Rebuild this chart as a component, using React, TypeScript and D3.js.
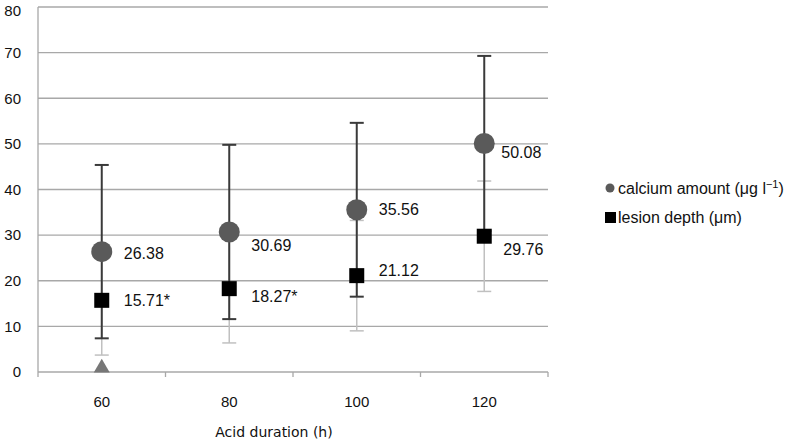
import { useEffect, useRef } from 'react'
import * as d3 from 'd3'

const durations = ['60', '80', '100', '120']
const calcium = [26.38, 30.69, 35.56, 50.08]
const calciumErr = [19.0, 19.1, 19.05, 19.2]
const lesion = [15.71, 18.27, 21.12, 29.76]
const lesionErr = [12.0, 11.9, 12.1, 12.1]
const lesionMark = ['*', '*', '', '']
const triangle = [0, null, null, null]
const yTicks = [0, 10, 20, 30, 40, 50, 60, 70, 80]

// label nudges (px) so the numbers sit where the original put them
const calciumLabelDy = [2, 13, 0, 9]
const lesionLabelDy = [0, 8, -5, 13]

export default function App() {
    const svgRef = useRef<SVGSVGElement>(null)

    useEffect(() => {
        const el = svgRef.current
        if (!el) return
        d3.select(el).selectAll('*').remove()

        const W = 788, H = 441
        const margin = { top: 7, left: 38, right: 240, bottom: 69 }
        const font = 'Liberation Sans, Arial, sans-serif'

        const svg = d3.select(el).attr('width', W).attr('height', H)
            .style('display', 'block').style('background', '#fff')

        const x = d3.scaleBand().domain(durations).range([margin.left, W - margin.right])
        const y = d3.scaleLinear().domain([0, 80]).range([H - margin.bottom, margin.top])
        const cx = (i: number) => (x(durations[i]) as number) + x.bandwidth() / 2

        // gridlines
        svg.append('g').selectAll('line').data(yTicks).enter().append('line')
            .attr('x1', margin.left).attr('x2', W - margin.right)
            .attr('y1', d => y(d)).attr('y2', d => y(d))
            .attr('stroke', '#a8a8a8').attr('stroke-width', 1.3)

        // y axis line
        svg.append('line')
            .attr('x1', margin.left).attr('x2', margin.left)
            .attr('y1', y(80)).attr('y2', y(0) + 5)
            .attr('stroke', '#a8a8a8').attr('stroke-width', 1.3)

        // x ticks at category boundaries
        const bounds = durations.map(d => x(d) as number).concat([W - margin.right])
        svg.append('g').selectAll('line').data(bounds.slice(1)).enter().append('line')
            .attr('x1', d => d).attr('x2', d => d)
            .attr('y1', y(0)).attr('y2', y(0) + 5)
            .attr('stroke', '#a8a8a8').attr('stroke-width', 1.3)

        // y tick labels
        svg.append('g').selectAll('text').data(yTicks).enter().append('text')
            .attr('x', 21).attr('y', d => Math.max(y(d), 11)).attr('dy', '0.35em')
            .attr('text-anchor', 'end')
            .attr('font-family', font).attr('font-size', 15).attr('fill', '#111')
            .text(d => d)

        // x labels
        svg.append('g').selectAll('text').data(durations).enter().append('text')
            .attr('x', (_d, i) => cx(i)).attr('y', 407)
            .attr('text-anchor', 'middle')
            .attr('font-family', font).attr('font-size', 15).attr('fill', '#111')
            .text(d => d)

        svg.append('text')
            .attr('x', 274).attr('y', 437)
            .attr('text-anchor', 'middle')
            .attr('font-family', 'DejaVu Sans, Verdana, sans-serif').attr('font-size', 14)
            .attr('fill', '#111')
            .text('Acid duration (h)')

        const errBar = (g: any, i: number, lo: number, hi: number, color: string, w: number) => {
            const px = cx(i)
            g.append('line').attr('x1', px).attr('x2', px).attr('y1', y(lo)).attr('y2', y(hi))
                .attr('stroke', color).attr('stroke-width', w)
            ;[lo, hi].forEach(v => {
                g.append('line').attr('x1', px - 7).attr('x2', px + 7).attr('y1', y(v)).attr('y2', y(v))
                    .attr('stroke', color).attr('stroke-width', w)
            })
        }

        // lesion error bars (light)
        const eb = svg.append('g')
        lesion.forEach((v, i) => errBar(eb, i, v - lesionErr[i], v + lesionErr[i], '#c0c0c0', 1.5))
        // calcium error bars (dark)
        calcium.forEach((v, i) => errBar(eb, i, v - calciumErr[i], v + calciumErr[i], '#3a3a3a', 2))

        // triangle series
        svg.append('g').selectAll('path').data(triangle.map((v, i) => ({ v, i })).filter(d => d.v !== null))
            .enter().append('path')
            .attr('d', d3.symbol().type(d3.symbolTriangle).size(110))
            .attr('transform', d => `translate(${cx(d.i)},${y(d.v as number) - 4})`)
            .attr('fill', '#777')

        // calcium circles
        svg.append('g').selectAll('circle').data(calcium).enter().append('circle')
            .attr('cx', (_d, i) => cx(i)).attr('cy', d => y(d)).attr('r', 10.5)
            .attr('fill', '#5a5a5a')

        // lesion squares
        svg.append('g').selectAll('rect').data(lesion).enter().append('rect')
            .attr('x', (_d, i) => cx(i) - 7.5).attr('y', d => y(d) - 7.5)
            .attr('width', 15).attr('height', 15)
            .attr('fill', '#000')

        // value labels
        svg.append('g').selectAll('text').data(calcium).enter().append('text')
            .attr('x', (_d, i) => cx(i) + (i === 3 ? 17 : 22))
            .attr('y', (d, i) => y(d) + calciumLabelDy[i]).attr('dy', '0.35em')
            .attr('font-family', font).attr('font-size', 16).attr('fill', '#111')
            .text(d => d.toFixed(2))

        svg.append('g').selectAll('text').data(lesion).enter().append('text')
            .attr('x', (_d, i) => cx(i) + (i === 3 ? 19 : 22))
            .attr('y', (d, i) => y(d) + lesionLabelDy[i]).attr('dy', '0.35em')
            .attr('font-family', font).attr('font-size', 16).attr('fill', '#111')
            .text((d, i) => d.toFixed(2) + lesionMark[i])

        // legend
        const lg = svg.append('g')
        lg.append('circle').attr('cx', 610).attr('cy', 188).attr('r', 4.5).attr('fill', '#5a5a5a')
        const t1 = lg.append('text').attr('x', 618).attr('y', 188).attr('dy', '0.35em')
            .attr('font-family', font).attr('font-size', 16).attr('fill', '#111')
        t1.append('tspan').text('calcium amount (μg l')
        t1.append('tspan').attr('dy', -6).attr('font-size', 11).text('−1')
        t1.append('tspan').attr('dy', 6).text(')')
        lg.append('rect').attr('x', 605).attr('y', 212).attr('width', 11).attr('height', 11).attr('fill', '#000')
        lg.append('text').attr('x', 618).attr('y', 217).attr('dy', '0.35em')
            .attr('font-family', font).attr('font-size', 16).attr('fill', '#111')
            .text('lesion depth (μm)')
    }, [])

    return <svg ref={svgRef} style={{ position: 'absolute', left: 0, top: 0 }} />
}
